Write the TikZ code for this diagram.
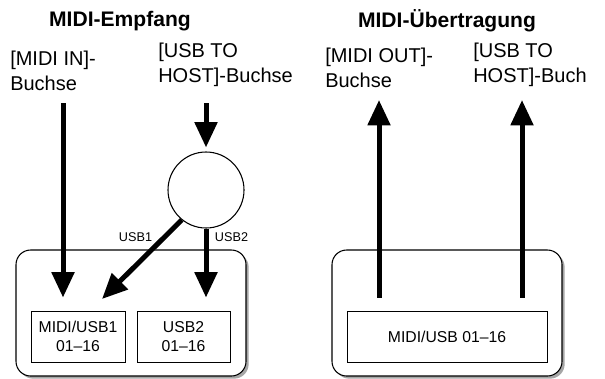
\documentclass[tikz,border=0pt]{standalone}
\usepackage{fontspec}
\setmainfont{Liberation Sans}
\usetikzlibrary{positioning,arrows.meta,shadows}

\begin{document}
\begin{tikzpicture}[x=0.75pt,y=-0.75pt,
  panel/.style={draw,line width=0.8pt,rounded corners=11pt,fill=white,minimum width=172.5pt,minimum height=94.5pt,
    drop shadow={shadow xshift=2pt,shadow yshift=-2pt,fill=black!35,opacity=1}},
  part/.style={draw,line width=0.7pt,minimum height=38.25pt,align=center,font=\fontsize{11.8}{14}\selectfont},
  jack/.style={anchor=north west,inner sep=0pt,align=left,font=\fontsize{15}{18.75}\selectfont},
  heading/.style={font=\fontsize{15.8}{18}\selectfont\bfseries},
  port/.style={font=\fontsize{9.5}{11}\selectfont},
  flow/.style={line width=3.75pt,-{Triangle[length=19pt,width=16.5pt]}}]
\useasboundingbox (0,0) rectangle (605,378);
% headings
\node[heading] (rxhead) at (120,21) {MIDI-Empfang};
\node[heading] (txhead) at (447,21) {MIDI-Übertragung};
% jacks
\node[jack] (midiin) at (10,51) {[MIDI IN]-\\Buchse};
\node[jack] (usbin) at (158,43) {[USB TO\\HOST]-Buchse};
\node[jack] (midiout) at (325,48) {[MIDI OUT]-\\Buchse};
\node[jack] (usbout) at (473,43) {[USB TO\\HOST]-Buch};
% panels
\node[panel] (rxpanel) at (131,313) {};
\node[panel] (txpanel) at (447,313) {};
\node[part,minimum width=70.5pt] (rxone) at (78,336.5) {MIDI/USB1\\01–16};
\node[part,minimum width=69.75pt] (rxtwo) at (183.5,336.5) {USB2\\01–16};
\node[part,minimum width=150pt] (txall) at (447,336.5) {MIDI/USB 01–16};
\node[draw,circle,line width=0.8pt,minimum size=57pt,inner sep=0pt] (hub) at (206,190) {};
% arrows
\coordinate (inA) at (63,103);
\coordinate (inB) at (206,103);
\coordinate (usbone) at (102,299);
\coordinate (outA) at (379,100);
\coordinate (outB) at (522,100);
\draw[flow,shorten >=9.75pt] (inA) -- (inA |- rxone.north);
\draw[flow,shorten >=3pt] (inB) -- (hub.north);
\draw[flow] (hub.231) -- (usbone);
\draw[flow,shorten >=9.75pt] (hub.south) -- (hub.south |- rxtwo.north);
\draw[flow,shorten <=9.75pt] (outA |- txall.north) -- (outA);
\draw[flow,shorten <=9.75pt] (outB |- txall.north) -- (outB);
\node[port] (usbonelbl) at (135.5,237) {USB1};
\node[port] (usbtwolbl) at (231.5,237) {USB2};
\end{tikzpicture}
\end{document}
